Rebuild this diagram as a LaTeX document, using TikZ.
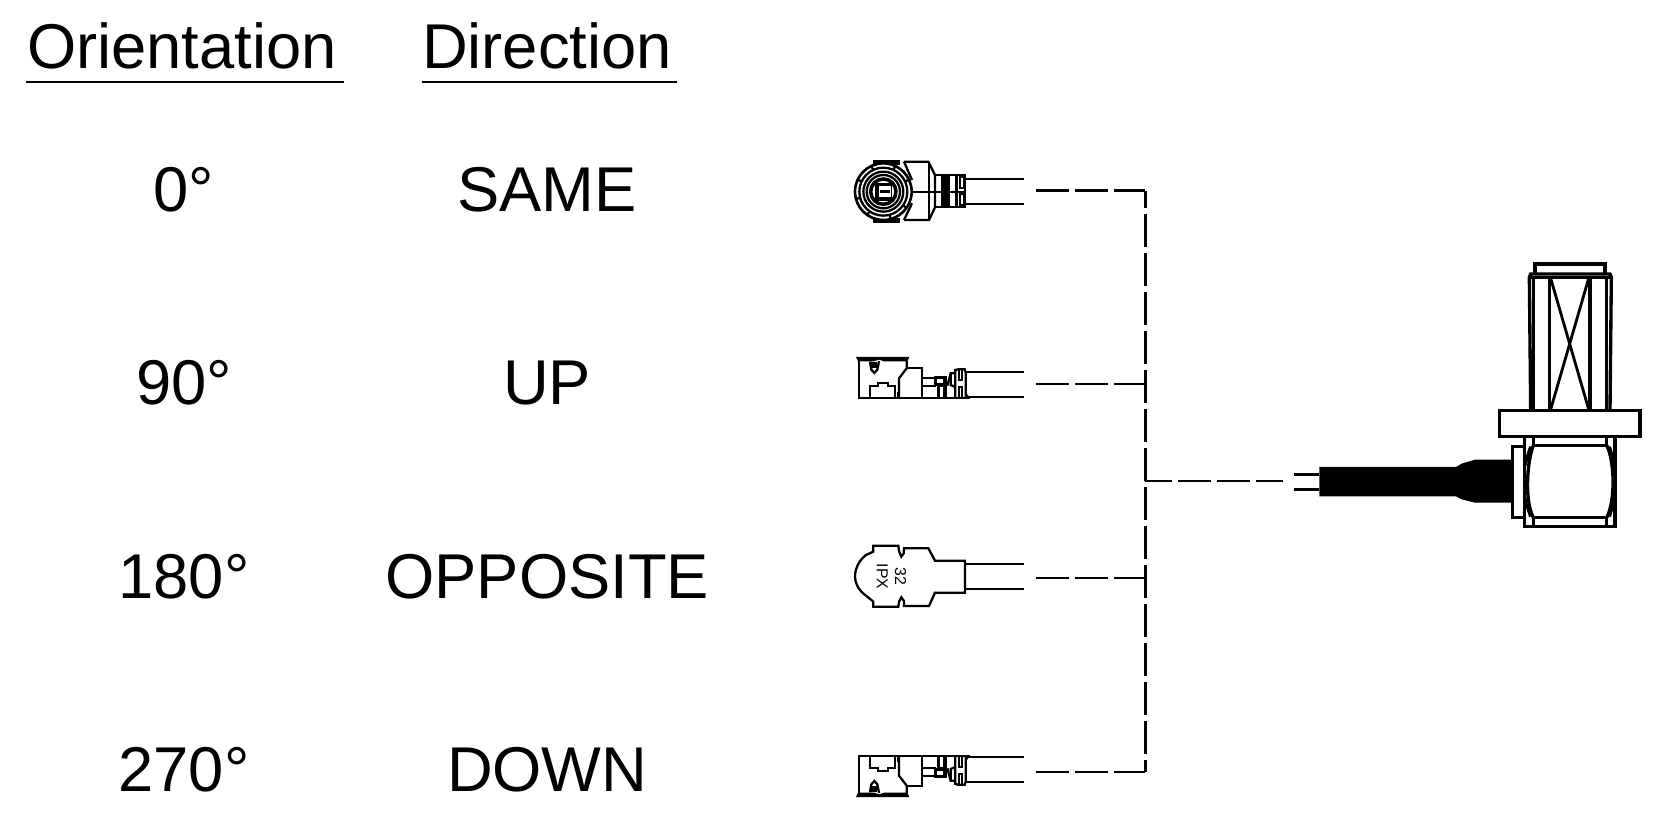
\documentclass[tikz,border=0pt]{standalone}
\usepackage{fontspec}
\setmainfont{Liberation Sans}
\usetikzlibrary{positioning}

\tikzset{
    sideplug/.pic={
        % Latch bar and peg
        \fill (78,66) -- (238,66) -- (232,79) -- (162,79) -- (147,74) -- (132,79) -- (84,79) -- cycle;
        \draw[plugline] (120,80) -- (124,104) -- (133,114) -- (142,104) -- (147,78);
        \fill (124,82) rectangle (142,100);
        % Housing
        \draw[plugline] (87,78) -- (87,190) -- (420,190);
        \draw[plugline] (120,190) -- (120,152) -- (143,152) -- (143,143) -- (175,143) -- (175,152) -- (195,152) -- (195,190);
        \draw[plugline] (230,78) -- (230,100) -- (207,130) -- (207,190);
        \fill (200,172) rectangle (208,190);
        \draw[plugline] (230,100) -- (277,100) -- (277,190);
        \draw[plugline] (277,130) -- (315,130);
        \draw[plugline] (277,152) -- (318,152);
        % Crimp
        \fill (313,124) rectangle (352,132);
        \fill (313,132) rectangle (322,152);
        \fill (338,132) rectangle (350,190);
        \fill (320,155) rectangle (331,190);
        \fill (322,145) rectangle (350,156);
        \draw[plugline] (352,152) -- (362,115) -- (376,115);
        \draw[plugline] (362,115) -- (362,150) -- (376,156);
        % Sleeve and cable
        \draw[plugline] (376,190) -- (376,105) -- (384,103) -- (404,103) -- (407,112) -- (407,190);
        \draw[plugline] (388,105) -- (388,135) -- (396,135) -- (396,105);
        \draw[plugline] (388,190) -- (388,155) -- (396,155) -- (396,190);
        \fill (407,172) -- (421,190) -- (407,190) -- cycle;
        \draw[plugline] (407,110) -- (582,110);
        \draw[plugline] (407,186) -- (582,186);
    }
}

\begin{document}
\begin{tikzpicture}[
    x=0.01cm, y=-0.01cm,
    on grid,
    heading/.style={inner sep=0pt, font=\fontsize{18}{22}\selectfont},
    rowtext/.style={inner sep=0pt, text height=0.46cm, text depth=0pt, font=\fontsize{18}{22}\selectfont},
    headrule/.style={line width=0.6pt},
    busline/.style={line width=0.85pt, dash pattern=on 0.33cm off 0.06cm},
    plugline/.style={line width=0.65pt, line join=miter},
    bodyline/.style={line width=0.95pt}
]
\useasboundingbox (0,0) rectangle (1667,834);

% Headings
\node[heading, anchor=base] (orient) at (182,69) {Orientation};
\node[heading, anchor=base] (direct) at (547,69) {Direction};
\coordinate (orient-a) at (26,82);
\coordinate (orient-b) at (344,82);
\coordinate (direct-a) at (422,82);
\coordinate (direct-b) at (677,82);
\draw[headrule] (orient-a) -- (orient-b);
\draw[headrule] (direct-a) -- (direct-b);

% Rows
\node[rowtext] (ang0) at (184,188) {0°};
\node[rowtext, below=1.935cm of ang0] (ang1) {90°};
\node[rowtext, below=1.935cm of ang1] (ang2) {180°};
\node[rowtext, below=1.935cm of ang2] (ang3) {270°};
\node[rowtext, right=3.63cm of ang0] (dir0) {SAME};
\node[rowtext, right=3.63cm of ang1] (dir1) {UP};
\node[rowtext, right=3.63cm of ang2] (dir2) {OPPOSITE};
\node[rowtext, right=3.63cm of ang3] (dir3) {DOWN};

% Plug 0, seen from the top
\begin{scope}[shift={(830,140)}, scale=1/3]
    \fill (130,60) rectangle (210,76);
    \fill (130,234) rectangle (210,248);
    \draw[plugline] (222,65) -- (295,65) -- (315,105) -- (315,202) -- (297,240) -- (222,240);
    \draw[plugline] (222,65) -- (246,120);
    \draw[plugline] (222,240) -- (246,190);
    \draw[plugline] (246,155) -- (315,155);
    \draw[plugline] (297,65) -- (297,240);
    \filldraw[fill=white, line width=0.75pt] (160,155) circle (85);
    \draw[plugline] (160,155) circle (72);
    \foreach \ang in {35,75,125,165,205,245,295,335}
        \draw[plugline] (\ang:72) ++(160,155) -- ++(\ang:13);
    \draw[plugline] (160,155) circle (60);
    \draw[plugline] (160,155) circle (50);
    \draw[line width=1pt] (160,155) circle (38);
    \fill (134,128) rectangle (186,182);
    \fill[white] (148,138) rectangle (182,172);
    \fill (150,150) rectangle (180,158);
    \draw[plugline] (315,105) rectangle (405,202);
    \fill (333,105) rectangle (360,202);
    \fill (375,105) rectangle (385,202);
    \draw[plugline] (391,112) rectangle (401,145);
    \draw[plugline] (391,162) rectangle (401,195);
    \draw[plugline] (315,155) -- (405,155);
    \draw[plugline] (405,117) -- (582,117);
    \draw[plugline] (405,192) -- (582,192);
\end{scope}

% Plug 1, side view
\pic[scale=1/3] at (830,335) {sideplug};

% Plug 2, bottom view
\begin{scope}[shift={(830,525)}, scale=1/3]
    \draw[plugline] (130,80) -- (130,62) -- (205,62) -- (207,78) -- (214,95) -- (221,85) -- (222,70) -- (295,70) -- (315,107) -- (405,107) -- (405,203) -- (315,203) -- (297,243) -- (222,243) -- (222,228) -- (214,217) -- (207,230) -- (205,245) -- (130,245) -- (130,230) -- (108,212) .. controls (85,195) and (75,175) .. (75,155) .. controls (75,130) and (88,105) .. (108,90) -- cycle;
    \draw[plugline] (405,117) -- (582,117);
    \draw[plugline] (405,192) -- (582,192);
    \node[rotate=-90, inner sep=0pt, font=\fontsize{4.5}{5}\selectfont] (ipx) at (157,155) {IPX};
    \node[rotate=-90, inner sep=0pt, font=\fontsize{4.5}{5}\selectfont] (num) at (212,155) {32};
\end{scope}

% Plug 3, side view from below
\pic[xscale=1/3, yscale=-1/3] at (830,819) {sideplug};

% Right angle connector
\begin{scope}[shift={(1280,250)}, scale=1/3]
    \draw[bodyline] (765,70) -- (765,42) -- (975,42) -- (975,70);
    \draw[bodyline] (752,480) -- (748,82) -- (752,72) -- (990,72) -- (994,82) -- (990,480);
    \draw[bodyline] (760,80) -- (760,480);
    \draw[bodyline] (980,80) -- (980,480);
    \draw[bodyline] (748,82) -- (994,82);
    \draw[bodyline] (808,82) -- (808,480);
    \draw[bodyline] (930,82) -- (930,480);
    \draw[plugline, line width=0.8pt] (812,85) -- (926,478);
    \draw[plugline, line width=0.8pt] (926,85) -- (812,478);
    \draw[bodyline] (658,481) rectangle (1080,560);
    \draw[bodyline] (733,560) -- (733,829) -- (1005,829) -- (1005,560);
    \draw[bodyline] (760,560) -- (760,586) -- (980,586) -- (980,560);
    \draw[bodyline] (760,829) -- (760,803) -- (980,803) -- (980,829);
    \draw[bodyline] (760,586) .. controls (742,630) and (732,750) .. (760,803);
    \draw[bodyline] (980,586) .. controls (1003,630) and (1008,750) .. (980,803);
    \draw[bodyline] (733,650) -- (752,590);
    \draw[bodyline] (733,740) -- (752,800);
    \draw[bodyline] (1005,650) -- (988,590);
    \draw[bodyline] (1005,740) -- (988,800);
    \draw[bodyline] (733,590) -- (698,590) -- (698,803) -- (733,803);
    \fill (118,651) -- (528,651) -- (545,641) -- (585,629) -- (698,629) -- (698,758) -- (585,758) -- (545,748) -- (528,739) -- (118,739) -- cycle;
    \draw[bodyline] (42,673) -- (118,673);
    \draw[bodyline] (42,718) -- (118,718);
\end{scope}

% Bus
\coordinate (port0) at (1036,191);
\coordinate (port1) at (1036,384);
\coordinate (port2) at (1036,578);
\coordinate (port3) at (1036,772);
\coordinate (bus0) at (1145,191);
\coordinate (bus1) at (1145,384);
\coordinate (bus2) at (1145,578);
\coordinate (bus3) at (1145,772);
\coordinate (join) at (1145,481);
\coordinate (cable) at (1283,481);

\draw[busline] (port0) -- (bus0);
\draw[busline] (port1) -- (bus1);
\draw[busline] (port2) -- (bus2);
\draw[busline] (port3) -- (bus3);
\draw[busline, dash phase=0.16cm] (bus0) -- (bus3);
\draw[busline, dash phase=0.06cm] (join) -- (cable);

\end{tikzpicture}
\end{document}
